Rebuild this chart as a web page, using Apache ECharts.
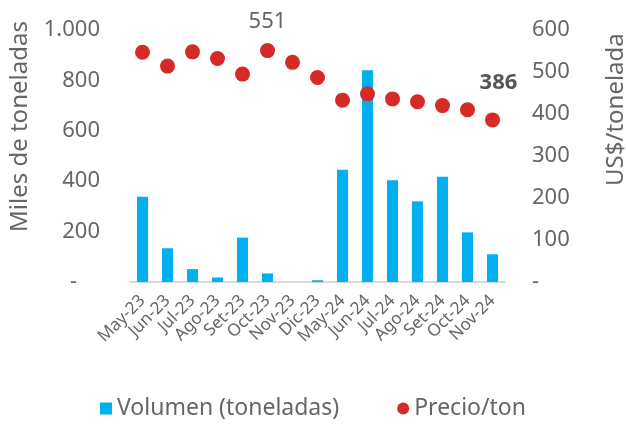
<!DOCTYPE html>
<html>
<head>
<meta charset="utf-8">
<script src="https://cdn.jsdelivr.net/npm/echarts@6/dist/echarts.min.js"></script>
<style>
  html, body { margin: 0; padding: 0; background: #fff; }
  #chart { width: 626px; height: 425px; }
</style>
</head>
<body>
<div id="chart"></div>
<script>
// datos
var meses = ['May-23', 'Jun-23', 'Jul-23', 'Ago-23', 'Set-23', 'Oct-23', 'Nov-23', 'Dic-23',
  'May-24', 'Jun-24', 'Jul-24', 'Ago-24', 'Set-24', 'Oct-24', 'Nov-24']
var volumen = [338, 134, 51, 18, 176, 34, 0, 7, 445, 840, 404, 320, 418, 197, 110]
var precio = [547, 514, 548, 532, 495, 551, 523, 487, 433, 448, 436, 429, 420, 410, 386]
var ticksIzq = [0, 200, 400, 600, 800, 1000]
var ticksDer = [0, 100, 200, 300, 400, 500, 600]

var gris = '#666666'
var fuente = 'Noto Sans'

var chart = echarts.init(document.getElementById('chart'))

var option = {
  backgroundColor: '#ffffff',
  textStyle: { fontFamily: fuente },
  grid: { left: 130, right: 121, top: 30, bottom: 143 },
  legend: {
    bottom: 0,
    left: 'center',
    itemGap: 58,
    itemWidth: 12,
    itemHeight: 12,
    textStyle: { color: gris, fontSize: 23, fontFamily: fuente },
    data: [
      { name: 'Volumen (toneladas)', icon: 'rect' },
      { name: 'Precio/ton', icon: 'circle', itemStyle: { opacity: 1 } }
    ]
  },
  xAxis: {
    type: 'category',
    data: meses,
    axisLine: { lineStyle: { color: '#d9d9d9', width: 2 } },
    axisTick: { show: false },
    axisLabel: { color: gris, fontSize: 17, rotate: 45, interval: 0, margin: 16 }
  },
  yAxis: [
    {
      type: 'value',
      min: ticksIzq[0],
      max: ticksIzq[ticksIzq.length - 1],
      interval: 200,
      splitLine: { show: false },
      axisLine: { show: false },
      axisTick: { show: false },
      axisLabel: {
        color: gris, fontSize: 22, margin: 30,
        formatter: function (v) {
          if (v === 0) return '-    '
          return v >= 1000 ? (v / 1000) + '.' + String(v % 1000).padStart(3, '0') : String(v)
        }
      }
    },
    {
      type: 'value',
      min: ticksDer[0],
      max: ticksDer[ticksDer.length - 1],
      interval: 100,
      splitLine: { show: false },
      axisLine: { show: false },
      axisTick: { show: false },
      axisLabel: {
        color: gris, fontSize: 22, margin: 27,
        formatter: function (v) { return v === 0 ? '-' : String(v) }
      }
    }
  ],
  graphic: [
    {
      type: 'text',
      style: { text: 'Miles de toneladas', fill: gris, font: '24px "' + fuente + '"' },
      rotation: Math.PI / 2, x: 8, y: 232
    },
    {
      type: 'text',
      style: { text: 'US$/tonelada', fill: gris, font: '24px "' + fuente + '"' },
      rotation: Math.PI / 2, x: 604, y: 186
    }
  ],
  series: [
    {
      name: 'Volumen (toneladas)',
      type: 'bar',
      yAxisIndex: 0,
      data: volumen,
      barWidth: '44%',
      itemStyle: { color: '#00b0f0' }
    },
    {
      name: 'Precio/ton',
      type: 'scatter',
      yAxisIndex: 1,
      symbolSize: 15,
      itemStyle: { color: '#d62a26', opacity: 1 },
      data: precio.map(function (p, i) {
        var d = { value: p }
        if (i === 5) {
          d.label = { show: true, position: 'top', distance: 10, color: gris, fontSize: 22 }
        }
        if (i === precio.length - 1) {
          d.label = { show: true, position: 'top', distance: 19, offset: [6, 0], color: '#555555', fontSize: 22, fontWeight: 'bold' }
        }
        return d
      })
    }
  ]
}

chart.setOption(option)
</script>
</body>
</html>
